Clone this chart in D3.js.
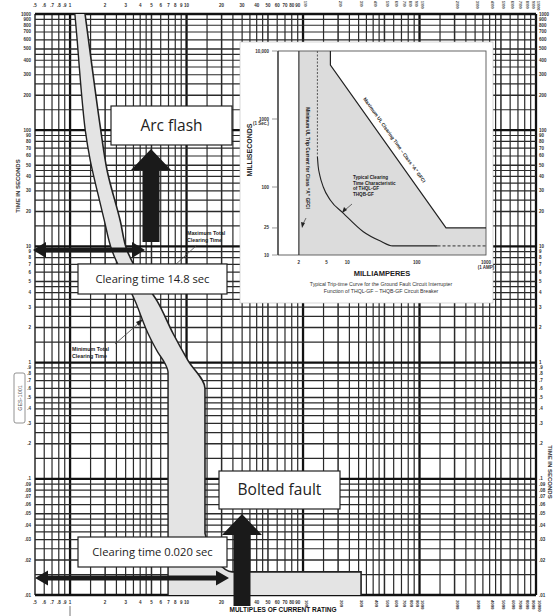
<!DOCTYPE html>
<html>
<head>
<meta charset="utf-8">
<script src="https://cdn.jsdelivr.net/npm/d3@7"></script>
<style>
body { margin: 0; background: #fff; }
svg { display: block; }
text { font-family: "Liberation Sans", Arial, sans-serif; }
.narrow { font-family: "Liberation Sans Narrow", "Liberation Sans", Arial, sans-serif; font-weight: bold; }
.note { font-family: "Open Sans", "Noto Sans", sans-serif; fill: #222; }
</style>
</head>
<body>
<div id="chart"></div>
<script>
// tick labels of the log paper
const xTickLabels = [".5",".6",".7",".8",".9","1","2","3","4","5","6","7","8","9","10",
  "20","30","40","50","60","70","80","90","100","200","300","400","500","600","700","800","900",
  "1000","2000","3000","4000","5000","6000","7000","8000","9000","10000"];
const yTickLabels = ["1000","900","800","700","600","500","400","300","200",
  "100","90","80","70","60","50","40","30","20",
  "10","9","8","7","6","5","4","3","2",
  "1",".9",".8",".7",".6",".5",".4",".3",".2",
  ".1",".09",".08",".07",".06",".05",".04",".03",".02",".01"];
const gridSteps = [1,1.5,2,2.5,3,3.5,4,4.5,5,6,7,8,9];

// main curves: [multiples of rating, seconds]
const minCurve = [[1.10,1000],[1.15,600],[1.20,350],[1.27,180],[1.35,100],[1.49,55],[1.71,30],
  [1.96,17],[2.29,9.2],[2.91,5.4],[3.61,3.4],[4.67,1.78],[5.69,1.22],[6.54,0.98],[6.94,0.82],[6.94,0.01]];
const maxCurveUpper = [[1.345,1000],[1.545,350],[1.81,110],[2.08,45],[2.69,16.8],[3.09,9.2],
  [3.99,5.6],[5.58,3.4],[7.66,1.78],[10.3,1.04],[14.4,0.6],[14.4,0.034]];
const maxCurveLower = [[14.4,0.034],[15.9,0.024],[18.6,0.019],[24.6,0.0158],[315,0.0158]];
const maxCurveEnd = [[315,0.0158],[315,0.01]];

// inset: [milliamperes, milliseconds]
const insetMaxUL = [[5.7,10000],[5.7,6200],[265,25],[1000,25]];
const insetTypical = [[3.7,280],[3.8,200],[4.0,150],[4.5,100],[5.7,64],[8.8,41],[17,22],[30,16],[45,13.6],[200,13.6]];
const insetTypicalDash = [[200,13.6],[1000,13.6]];
const insetDashVert = [[3.7,10000],[3.7,280]];
const insetMinTrip = 2;
const insetXTicks = ["2","5","10","100","1000"];
const insetYTicks = ["10,000","1000","100","25","10"];

const W = 555, H = 616;
const svg = d3.select("#chart").append("svg").attr("width", W).attr("height", H);

const x = d3.scaleLog().domain([0.5, 10000]).range([35, 536]);
const y = d3.scaleLog().domain([0.01, 1000]).range([595, 14]);

// grid
const xGrid = [], yGrid = [];
for (let k = -1; k <= 3; k++) gridSteps.forEach(s => {
  const v = +(s * Math.pow(10, k)).toPrecision(6);
  if (v >= 0.5 && v <= 10000) xGrid.push(v);
});
xGrid.push(10000);
for (let k = -2; k <= 2; k++) gridSteps.forEach(s => {
  const v = +(s * Math.pow(10, k)).toPrecision(6);
  if (v >= 0.01 && v <= 1000) yGrid.push(v);
});
yGrid.push(1000);

const lead = v => { const l = Math.log10(v); return Math.abs(l - Math.round(l)) < 1e-9 ? 1 : +(v / Math.pow(10, Math.floor(l + 1e-9))).toFixed(3); };
const gw = v => lead(v) === 1 ? 2.3 : (lead(v) === 5 || lead(v) === 2 ? 1.5 : 1.2);
const gc = v => lead(v) === 1 ? "#111" : "#2a2a2a";

const grid = svg.append("g");
grid.selectAll("line.v").data(xGrid).enter().append("line")
  .attr("x1", d => x(d)).attr("x2", d => x(d)).attr("y1", y(1000)).attr("y2", y(0.01))
  .attr("stroke", gc).attr("stroke-width", gw);
grid.selectAll("line.h").data(yGrid).enter().append("line")
  .attr("y1", d => y(d)).attr("y2", d => y(d)).attr("x1", x(0.5)).attr("x2", x(10000))
  .attr("stroke", gc).attr("stroke-width", gw);

// tick labels
const tl = svg.append("g").attr("class", "narrow").attr("fill", "#333").style("font-size", "4.5px");
xTickLabels.forEach(t => {
  const v = +t;
  if (v >= 100) {
    // large values are set on end, top and bottom
    tl.append("text").attr("transform", `translate(${x(v) + 1.2},${1}) rotate(90)`)
      .style("font-size", "3.4px").text(t);
    tl.append("text").attr("transform", `translate(${x(v) + 1.5},${600}) rotate(90)`)
      .style("font-size", "4.2px").text(t);
  } else {
    tl.append("text").attr("x", x(v)).attr("y", 7).attr("text-anchor", "middle").text(t);
    tl.append("text").attr("x", x(v)).attr("y", 603.5).attr("text-anchor", "middle").text(t);
  }
});
yTickLabels.forEach(t => {
  tl.append("text").attr("x", 31).attr("y", y(+t) + 1.5).attr("text-anchor", "end").text(t);
  tl.append("text").attr("x", 539).attr("y", y(+t) + 1.5).text(t);
});

// clearing band
const lineY = d3.line().x(d => x(d[0])).y(d => y(d[1])).curve(d3.curveMonotoneY);
const lineX = d3.line().x(d => x(d[0])).y(d => y(d[1])).curve(d3.curveMonotoneX);
const lin = d3.line().x(d => x(d[0])).y(d => y(d[1]));
const pUpper = lineY(maxCurveUpper);
const pLower = lineX(maxCurveLower).replace(/^M/, "L");
const pEnd = lin(maxCurveEnd).replace(/^M/, "L");
const pMinRev = lineY(minCurve.slice().reverse()).replace(/^M/, "L");
svg.append("path").attr("d", pUpper + pLower + pEnd + pMinRev + "Z")
  .attr("fill", "#e4e4e4").attr("stroke", "none");
svg.append("path").attr("d", lineY(minCurve)).attr("fill", "none").attr("stroke", "#222").attr("stroke-width", 1.4);
svg.append("path").attr("d", pUpper + pLower + pEnd).attr("fill", "none").attr("stroke", "#222").attr("stroke-width", 1.6);

// axis titles
svg.append("text").attr("class", "narrow").attr("transform", "translate(20,186) rotate(-90)")
  .attr("text-anchor", "middle").style("font-size", "6px").attr("fill", "#333").text("TIME  IN  SECONDS");
svg.append("text").attr("class", "narrow").attr("transform", "translate(548,472) rotate(90)")
  .attr("text-anchor", "middle").style("font-size", "6px").attr("fill", "#333").text("TIME  IN  SECONDS");
svg.append("text").attr("class", "narrow").attr("x", 283).attr("y", 612)
  .attr("text-anchor", "middle").style("font-size", "6.5px").attr("fill", "#111").text("MULTIPLES OF CURRENT RATING");
svg.append("rect").attr("x", 14).attr("y", 373).attr("width", 11).attr("height", 50).attr("rx", 2)
  .attr("fill", "#fff").attr("stroke", "#777").attr("stroke-width", 0.8);
svg.append("text").attr("transform", "translate(21.5,398) rotate(-90)").attr("text-anchor", "middle")
  .style("font-size", "5.5px").attr("fill", "#555").text("GES-1001");
svg.append("line").attr("x1", 70).attr("x2", 70).attr("y1", 606).attr("y2", 616).attr("stroke", "#777");

// curve notes
const notes = svg.append("g").attr("class", "narrow").style("font-size", "5.3px").attr("fill", "#222");
notes.append("text").attr("x", 187).attr("y", 235).text("Maximum Total");
notes.append("text").attr("x", 187).attr("y", 242).text("Clearing Time");
notes.append("text").attr("x", 72).attr("y", 351).text("Minimum Total");
notes.append("text").attr("x", 72).attr("y", 358).text("Clearing Time");
svg.append("line").attr("x1", 197).attr("y1", 245).attr("x2", 174).attr("y2", 266).attr("stroke", "#444").attr("stroke-width", 0.8);
svg.append("line").attr("x1", 115).attr("y1", 344).attr("x2", 139).attr("y2", 323).attr("stroke", "#444").attr("stroke-width", 0.8);
svg.append("path").attr("d", "M143,319 L136,322 L139,326 Z").attr("fill", "#222");

// inset
const xi = d3.scaleLog().domain([1, 1000]).range([278, 486]);
const yi = d3.scaleLog().domain([10, 10000]).range([255, 51]);
const inset = svg.append("g");
inset.append("rect").attr("x", 240).attr("y", 42).attr("width", 253).attr("height", 261)
  .attr("fill", "#fff").attr("stroke", "#bbb").attr("stroke-width", 0.6);
const li = d3.line().x(d => xi(d[0])).y(d => yi(d[1]));
const shade = [[insetMinTrip, 10], [insetMinTrip, 10000]].concat(insetMaxUL, [[1000, 10]]);
inset.append("path").attr("d", li(shade) + "Z").attr("fill", "#dcdcdc");
inset.append("rect").attr("x", xi(1)).attr("y", yi(10000)).attr("width", xi(1000) - xi(1)).attr("height", yi(10) - yi(10000))
  .attr("fill", "none").attr("stroke", "#555").attr("stroke-width", 0.9);
inset.append("line").attr("x1", xi(1)).attr("x2", xi(1)).attr("y1", yi(10000)).attr("y2", yi(10)).attr("stroke", "#333").attr("stroke-width", 1.2);
inset.append("line").attr("x1", xi(insetMinTrip)).attr("x2", xi(insetMinTrip)).attr("y1", yi(10000)).attr("y2", yi(10))
  .attr("stroke", "#333").attr("stroke-width", 1.2);
inset.append("path").attr("d", li(insetMaxUL)).attr("fill", "none").attr("stroke", "#222").attr("stroke-width", 1.2);
inset.append("path").attr("d", li(insetDashVert)).attr("fill", "none").attr("stroke", "#555").attr("stroke-width", 1).attr("stroke-dasharray", "2,1.5");
inset.append("path").attr("d", d3.line().x(d => xi(d[0])).y(d => yi(d[1])).curve(d3.curveMonotoneX)(insetTypical))
  .attr("fill", "none").attr("stroke", "#222").attr("stroke-width", 1.1);
inset.append("path").attr("d", li(insetTypicalDash)).attr("fill", "none").attr("stroke", "#333").attr("stroke-width", 1).attr("stroke-dasharray", "3,2");

const it = inset.append("g").attr("class", "narrow").attr("fill", "#333").style("font-size", "4.5px");
insetYTicks.forEach(t => {
  const v = +t.replace(",", "");
  it.append("text").attr("x", 269).attr("y", yi(v) + 1.5).attr("text-anchor", "end").text(t);
  inset.append("line").attr("x1", 272).attr("x2", 277).attr("y1", yi(v)).attr("y2", yi(v)).attr("stroke", "#555").attr("stroke-width", 0.6);
});
it.append("text").attr("x", 269).attr("y", yi(1000) + 6).attr("text-anchor", "end").text("(1 Sec.)");
insetXTicks.forEach(t => {
  it.append("text").attr("x", xi(+t)).attr("y", 264).attr("text-anchor", "middle").text(t);
});
it.append("text").attr("x", xi(1000)).attr("y", 269).attr("text-anchor", "middle").text("(1 AMP)");
inset.append("text").attr("class", "narrow").attr("transform", "translate(252,150) rotate(-90)")
  .attr("text-anchor", "middle").style("font-size", "7px").attr("fill", "#222").text("MILLISECONDS");
inset.append("text").attr("class", "narrow").attr("x", 382).attr("y", 276)
  .attr("text-anchor", "middle").style("font-size", "7.5px").attr("fill", "#222").text("MILLIAMPERES");
inset.append("text").attr("x", 381).attr("y", 286).attr("text-anchor", "middle").style("font-size", "5.2px").attr("fill", "#333")
  .text("Typical Trip-time Curve for the Ground Fault Circuit Interrupter");
inset.append("text").attr("x", 381).attr("y", 293).attr("text-anchor", "middle").style("font-size", "5.2px").attr("fill", "#333")
  .text("Function of THQL-GF \u2013 THQB-GF Circuit Breaker");
inset.append("text").attr("class", "narrow").attr("transform", "translate(306,158) rotate(90)")
  .attr("text-anchor", "middle").style("font-size", "4.8px").attr("fill", "#222").text("Minimum UL Trip Current for Class \u201CA\u201D GFCI");
inset.append("text").attr("class", "narrow").attr("transform", "translate(393,141) rotate(54.5)")
  .attr("text-anchor", "middle").style("font-size", "4.8px").attr("fill", "#222").text("Maximum UL Clearing Time \u2013 Class \u201CA\u201D GFCI");
["Typical Clearing", "Time Characteristic", "of THQL-GF", "THQB-GF"].forEach((s, i) => {
  inset.append("text").attr("class", "narrow").attr("x", 353).attr("y", 179 + i * 5.5)
    .style("font-size", "4.6px").attr("fill", "#222").text(s);
});
inset.append("line").attr("x1", 352).attr("y1", 204).attr("x2", 345).attr("y2", 210).attr("stroke", "#333").attr("stroke-width", 0.7);
inset.append("path").attr("d", "M342,213 L344,207 L347,210 Z").attr("fill", "#222");
inset.append("line").attr("x1", 306).attr("y1", 218).attr("x2", 303).attr("y2", 224).attr("stroke", "#333").attr("stroke-width", 0.7);
inset.append("path").attr("d", "M302,228 L301,222 L305,223 Z").attr("fill", "#222");

// annotations
function box(x0, y0, w, h, label, size) {
  svg.append("rect").attr("x", x0).attr("y", y0).attr("width", w).attr("height", h)
    .attr("fill", "#fff").attr("stroke", "#222").attr("stroke-width", 1.2);
  svg.append("text").attr("class", "note").attr("x", x0 + w / 2).attr("y", y0 + h / 2)
    .attr("dy", "0.35em").attr("text-anchor", "middle").style("font-size", size + "px").text(label);
}
function upArrow(cx, tipY, baseY, bottomY, shaft, head) {
  const p = [[cx - shaft / 2, bottomY], [cx - shaft / 2, baseY], [cx - head / 2, baseY], [cx, tipY],
    [cx + head / 2, baseY], [cx + shaft / 2, baseY], [cx + shaft / 2, bottomY]];
  svg.append("path").attr("d", d3.line()(p) + "Z").attr("fill", "#1a1a1a");
}
function dblArrow(x0, x1, cy, shaft, head, hl) {
  const p = [[x0, cy], [x0 + hl, cy - head / 2], [x0 + hl, cy - shaft / 2], [x1 - hl, cy - shaft / 2], [x1 - hl, cy - head / 2],
    [x1, cy], [x1 - hl, cy + head / 2], [x1 - hl, cy + shaft / 2], [x0 + hl, cy + shaft / 2], [x0 + hl, cy + head / 2]];
  svg.append("path").attr("d", d3.line()(p) + "Z").attr("fill", "#1a1a1a");
}
box(111, 106, 121, 39, "Arc flash", 15.5);
upArrow(151, 149, 170, 242, 17, 40);
dblArrow(33, 145, 250, 5, 16, 13);
box(78, 264, 149, 30, "Clearing time 14.8 sec", 11.2);
box(219, 471, 121, 38, "Bolted fault", 15.5);
upArrow(242, 514, 535, 606, 17, 40);
box(78, 537, 149, 30, "Clearing time 0.020 sec", 11.2);
dblArrow(35, 229, 578, 5, 15, 13);
</script>
</body>
</html>
